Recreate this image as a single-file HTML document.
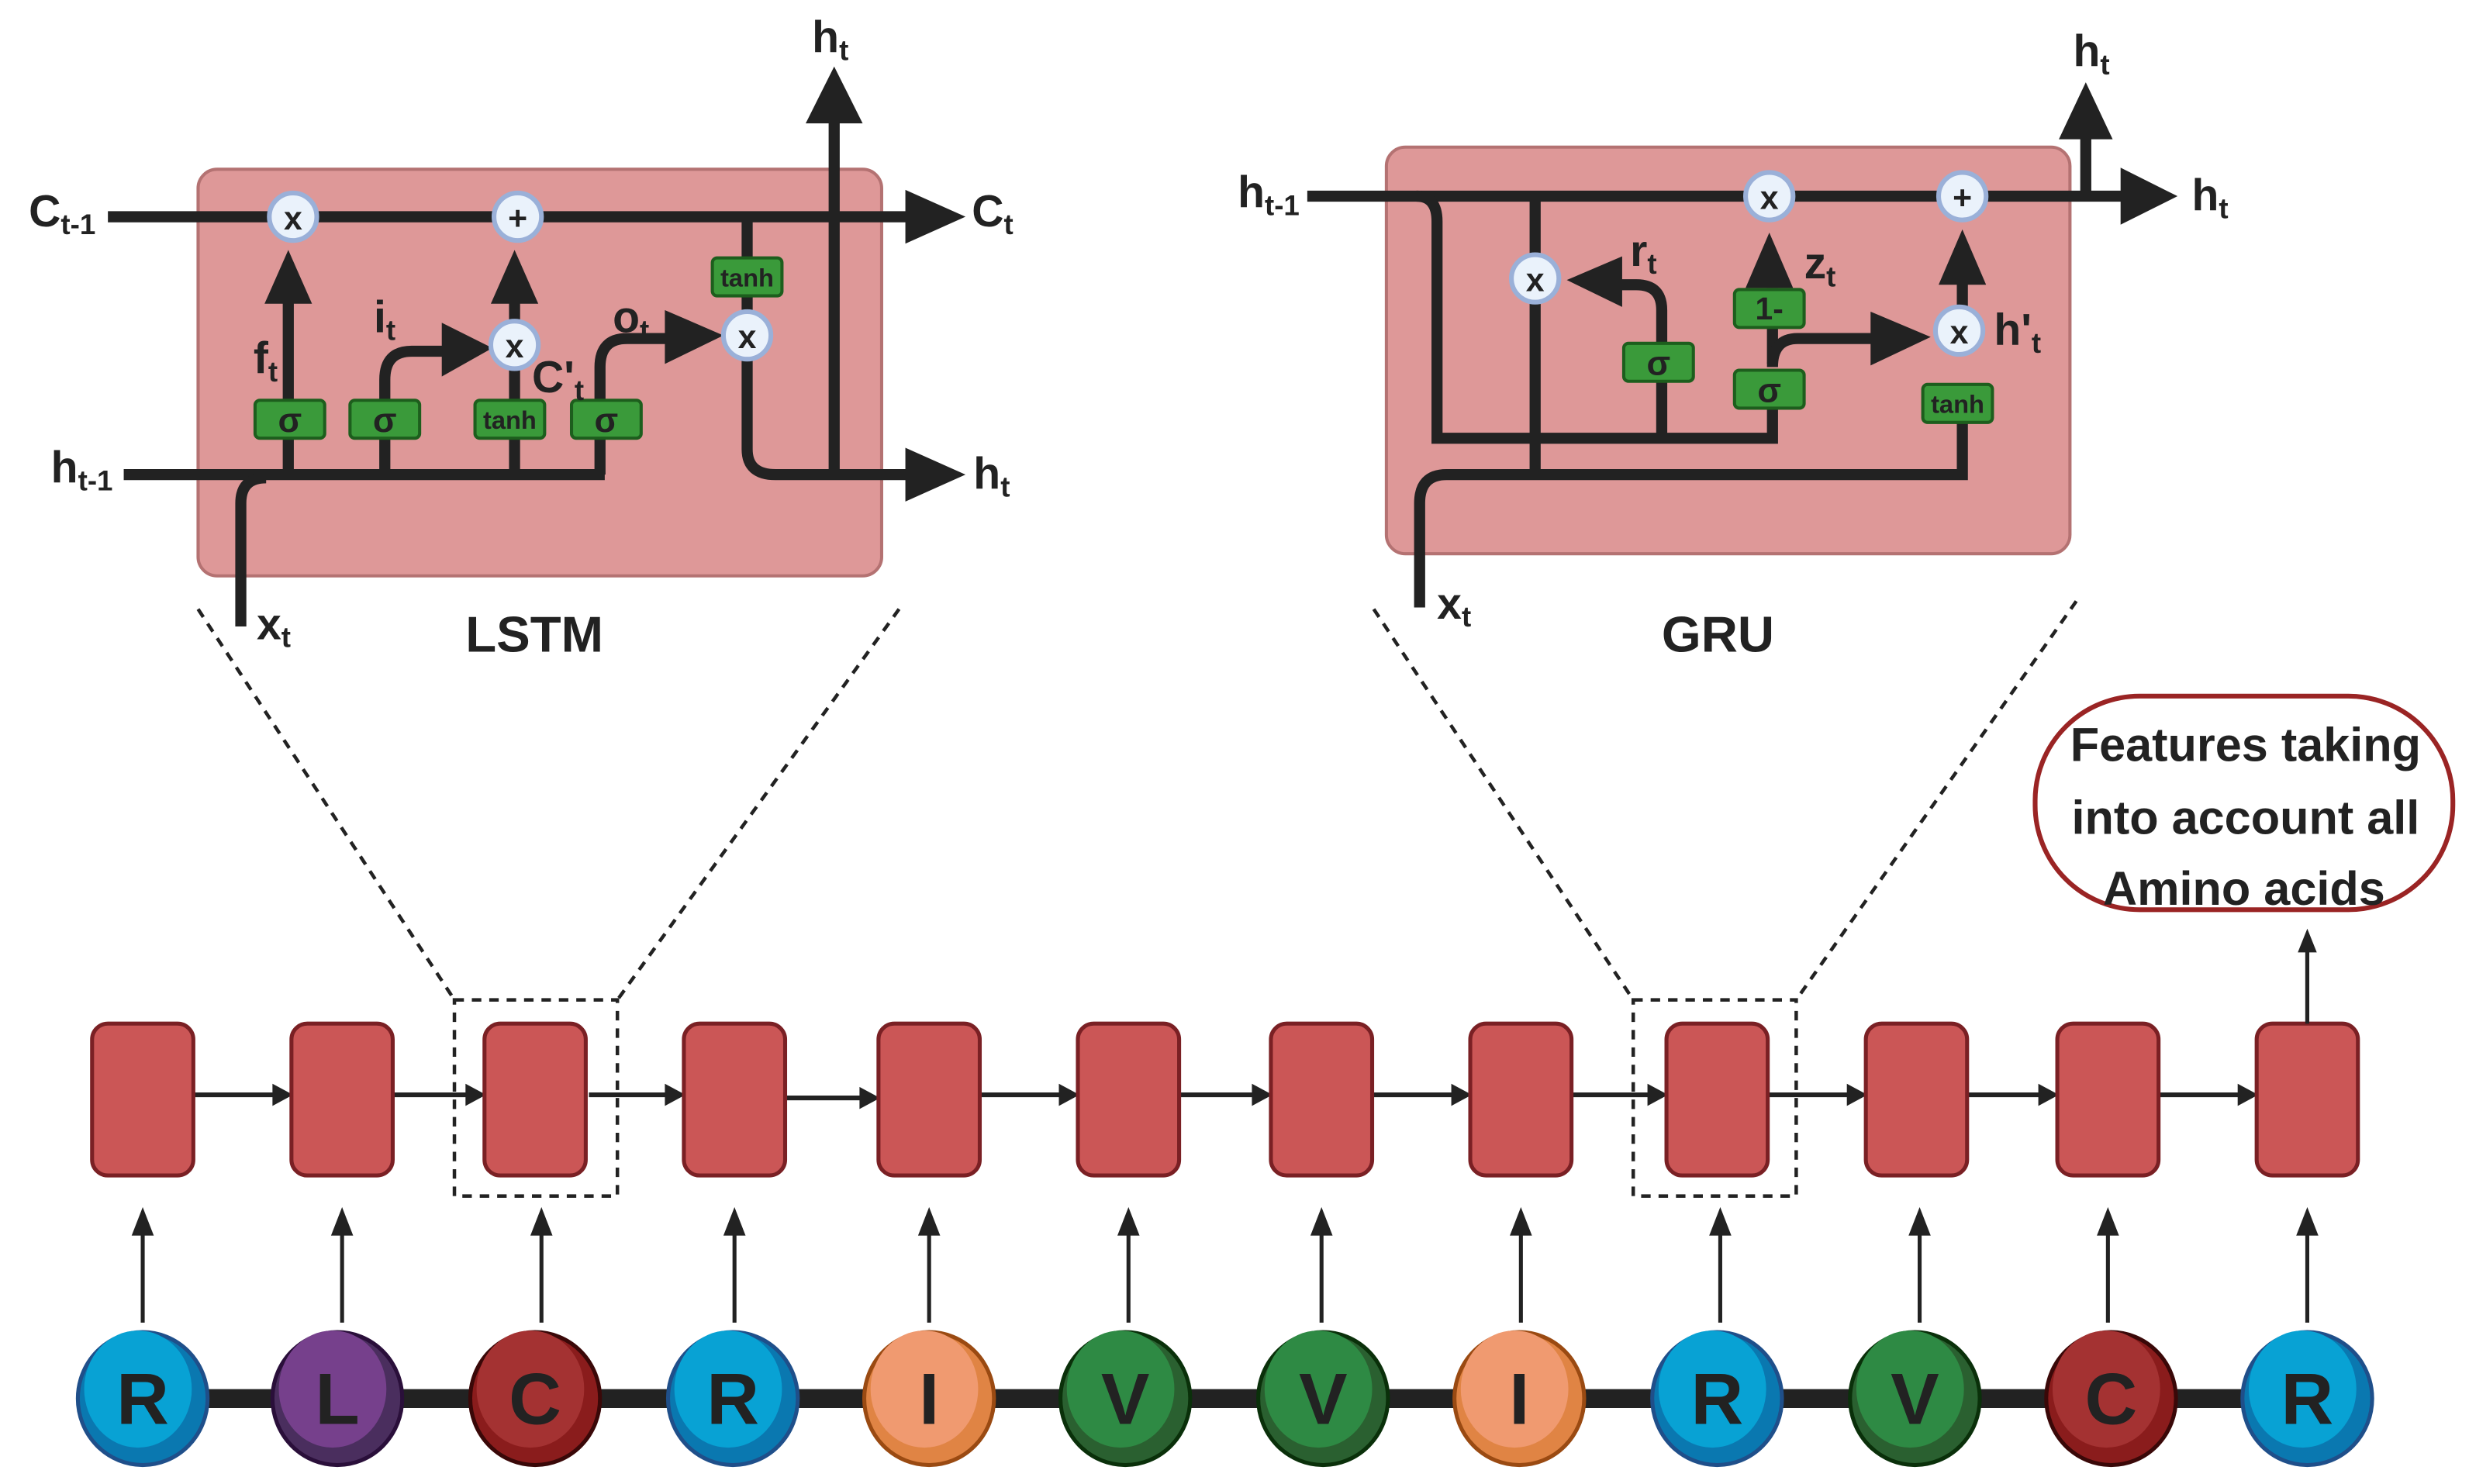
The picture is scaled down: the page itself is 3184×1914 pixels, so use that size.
<!DOCTYPE html>
<html><head><meta charset="utf-8"><style>
html,body{margin:0;padding:0;background:#fff}
svg{display:block}
text{font-family:"Liberation Sans",sans-serif;font-weight:bold;fill:#222}
</style></head><body>
<svg width="3184" height="1914" viewBox="0 0 1560 938" xmlns="http://www.w3.org/2000/svg">
<defs>
<marker id="ah" markerWidth="10" markerHeight="10" refX="9" refY="5" orient="auto" markerUnits="userSpaceOnUse"><path d="M0,0 L10,5 L0,10 z" fill="#222"/></marker>
</defs>
<g stroke="#222" stroke-width="2.2" stroke-dasharray="6,5" fill="none">
<line x1="125" y1="385" x2="287" y2="632"/><line x1="568" y1="385" x2="390" y2="632"/>
<line x1="868" y1="385" x2="1032" y2="632"/><line x1="1312" y1="380" x2="1135" y2="632"/>
<rect x="287" y="632" width="103" height="124"/><rect x="1032" y="632" width="103" height="124"/>
</g>
<!-- LSTM -->
<rect x="125" y="107" width="432" height="257" rx="12" fill="#de9898" stroke="#b47272" stroke-width="2"/>
<g stroke="#222" stroke-width="7" fill="none">
<line x1="68" y1="137" x2="582" y2="137"/>
<line x1="78" y1="300" x2="382" y2="300"/>
<path d="M152,396 V318 Q152,302 168,302"/>
<line x1="182" y1="300" x2="182" y2="190"/>
<path d="M243,300 V240 Q243,222 260,222 H282"/>
<line x1="325" y1="300" x2="325" y2="233"/>
<line x1="325" y1="203" x2="325" y2="190"/>
<path d="M379,300 V232 Q379,214 396,214 H422"/>
<line x1="472" y1="137" x2="472" y2="197"/>
<path d="M472,227 V284 Q472,300 490,300 H582"/>
<line x1="527" y1="300" x2="527" y2="76"/>
</g>
<g fill="#222">
<path d="M572,120 L610,137 L572,154z"/><path d="M572,283 L610,300 L572,317z"/>
<path d="M509,78 L527,42 L545,78z"/>
<path d="M167,192 L182,158 L197,192z"/><path d="M310,192 L325,158 L340,192z"/>
<path d="M279,204 L311,220 L279,238z"/><path d="M420,196 L457,212 L420,230z"/>
</g>
<g fill="#3a9a3a" stroke="#1d5e1d" stroke-width="2">
<rect x="161" y="253" width="44" height="24" rx="3"/><rect x="221" y="253" width="44" height="24" rx="3"/>
<rect x="300" y="253" width="44" height="24" rx="3"/><rect x="361" y="253" width="44" height="24" rx="3"/>
<rect x="450" y="163" width="44" height="24" rx="3"/>
</g>
<g font-size="22" text-anchor="middle"><text x="183" y="273">σ</text><text x="243" y="273">σ</text><text x="383" y="273">σ</text></g>
<g font-size="16" text-anchor="middle" font-weight="normal"><text x="322" y="271">tanh</text><text x="472" y="181">tanh</text></g>
<g fill="#eaf2fb" stroke="#9ab0d8" stroke-width="3">
<circle cx="185" cy="137" r="15"/><circle cx="327" cy="137" r="15"/><circle cx="325" cy="218" r="15"/><circle cx="472" cy="212" r="15"/>
</g>
<g font-size="21" text-anchor="middle"><text x="185" y="145">x</text><text x="327" y="145">+</text><text x="325" y="226">x</text><text x="472" y="220">x</text></g>
<g font-size="28">
<text x="18" y="143">C<tspan font-size="18" dy="5">t-1</tspan></text>
<text x="614" y="143">C<tspan font-size="18" dy="5">t</tspan></text>
<text x="32" y="305">h<tspan font-size="18" dy="5">t-1</tspan></text>
<text x="615" y="309">h<tspan font-size="18" dy="5">t</tspan></text>
<text x="513" y="33">h<tspan font-size="18" dy="5">t</tspan></text>
<text x="160" y="236">f<tspan font-size="18" dy="5">t</tspan></text>
<text x="236" y="210">i<tspan font-size="18" dy="5">t</tspan></text>
<text x="387" y="210">o<tspan font-size="18" dy="5">t</tspan></text>
<text x="336" y="248">C'<tspan font-size="18" dy="5">t</tspan></text>
<text x="162" y="404">x<tspan font-size="18" dy="5">t</tspan></text>
<text x="294" y="412" font-size="32">LSTM</text>
</g>
<!-- GRU -->
<rect x="876" y="93" width="432" height="257" rx="12" fill="#de9898" stroke="#b47272" stroke-width="2"/>
<g stroke="#222" stroke-width="7" fill="none">
<line x1="826" y1="124" x2="1345" y2="124"/>
<path d="M895,124 Q908,124 908,140 V277 H1120 V250"/>
<path d="M897,384 V318 Q897,300 914,300 H1240 V265"/>
<line x1="970" y1="124" x2="970" y2="300"/>
<path d="M1050,277 V196 Q1050,180 1034,180 H1020"/>
<line x1="1120" y1="230" x2="1120" y2="182"/>
<path d="M1120,232 Q1120,214 1136,214 H1185"/>
<line x1="1240" y1="196" x2="1240" y2="178"/>
<line x1="1318" y1="124" x2="1318" y2="86"/>
</g>
<g fill="#222">
<path d="M1340,106 L1376,124 L1340,142z"/><path d="M1301,88 L1318,52 L1335,88z"/>
<path d="M1025,162 L990,177 L1025,194z"/>
<path d="M1103,182 L1118,147 L1133,182z"/><path d="M1225,180 L1240,145 L1255,180z"/>
<path d="M1182,197 L1220,213 L1182,231z"/>
</g>
<g fill="#3a9a3a" stroke="#1d5e1d" stroke-width="2">
<rect x="1026" y="217" width="44" height="24" rx="3"/><rect x="1096" y="234" width="44" height="24" rx="3"/>
<rect x="1096" y="183" width="44" height="24" rx="3"/><rect x="1215" y="243" width="44" height="24" rx="3"/>
</g>
<g font-size="22" text-anchor="middle"><text x="1048" y="237">σ</text><text x="1118" y="254">σ</text><text x="1118" y="202" font-size="20">1-</text></g>
<text x="1237" y="261" font-size="16" text-anchor="middle" font-weight="normal">tanh</text>
<g fill="#eaf2fb" stroke="#9ab0d8" stroke-width="3">
<circle cx="1118" cy="124" r="15"/><circle cx="1240" cy="124" r="15"/><circle cx="970" cy="176" r="15"/><circle cx="1238" cy="209" r="15"/>
</g>
<g font-size="21" text-anchor="middle"><text x="1118" y="132">x</text><text x="1240" y="132">+</text><text x="970" y="184">x</text><text x="1238" y="217">x</text></g>
<g font-size="28">
<text x="782" y="131">h<tspan font-size="18" dy="5">t-1</tspan></text>
<text x="1385" y="133">h<tspan font-size="18" dy="5">t</tspan></text>
<text x="1310" y="42">h<tspan font-size="18" dy="5">t</tspan></text>
<text x="1030" y="168">r<tspan font-size="18" dy="5">t</tspan></text>
<text x="1140" y="176">z<tspan font-size="18" dy="5">t</tspan></text>
<text x="1260" y="218">h'<tspan font-size="18" dy="5">t</tspan></text>
<text x="908" y="391">x<tspan font-size="18" dy="5">t</tspan></text>
<text x="1050" y="412" font-size="32">GRU</text>
</g>
<!-- callout -->
<rect x="1286" y="440" width="264" height="135" rx="66" fill="#fff" stroke="#9a2424" stroke-width="3"/>
<g font-size="30" text-anchor="middle"><text x="1419" y="481">Features taking</text><text x="1419" y="527">into account all</text><text x="1418" y="572">Amino acids</text></g>
<line x1="1458" y1="660" x2="1458" y2="600" stroke="#222" stroke-width="2.5"/>
<path d="M1452,602 L1458,587 L1464,602z" fill="#222"/>
<!-- chain -->
<g id="chain">
<line x1="90" y1="884" x2="1458" y2="884" stroke="#222" stroke-width="12"/>
</g>
<g stroke="#222" stroke-width="3">
<line x1="122" y1="692" x2="176" y2="692"/><line x1="248" y1="692" x2="298" y2="692"/><line x1="372" y1="692" x2="424" y2="692"/>
<line x1="496" y1="694" x2="547" y2="694"/><line x1="619" y1="692" x2="673" y2="692"/><line x1="745" y1="692" x2="795" y2="692"/>
<line x1="867" y1="692" x2="921" y2="692"/><line x1="993" y1="692" x2="1045" y2="692"/><line x1="1117" y1="692" x2="1171" y2="692"/>
<line x1="1243" y1="692" x2="1292" y2="692"/><line x1="1364" y1="692" x2="1418" y2="692"/>
</g>
<g fill="#222">
<path d="M172,685 L185,692 L172,699z"/><path d="M294,685 L307,692 L294,699z"/><path d="M420,685 L433,692 L420,699z"/>
<path d="M543,687 L556,694 L543,701z"/><path d="M669,685 L682,692 L669,699z"/><path d="M791,685 L804,692 L791,699z"/>
<path d="M917,685 L930,692 L917,699z"/><path d="M1041,685 L1054,692 L1041,699z"/><path d="M1167,685 L1180,692 L1167,699z"/>
<path d="M1288,685 L1301,692 L1288,699z"/><path d="M1414,685 L1427,692 L1414,699z"/>
</g>
<g fill="#cb5656" stroke="#7a2024" stroke-width="2.5">
<rect x="58" y="647" width="64" height="96" rx="10"/><rect x="184" y="647" width="64" height="96" rx="10"/>
<rect x="306" y="647" width="64" height="96" rx="10"/><rect x="432" y="647" width="64" height="96" rx="10"/>
<rect x="555" y="647" width="64" height="96" rx="10"/><rect x="681" y="647" width="64" height="96" rx="10"/>
<rect x="803" y="647" width="64" height="96" rx="10"/><rect x="929" y="647" width="64" height="96" rx="10"/>
<rect x="1053" y="647" width="64" height="96" rx="10"/><rect x="1179" y="647" width="64" height="96" rx="10"/>
<rect x="1300" y="647" width="64" height="96" rx="10"/><rect x="1426" y="647" width="64" height="96" rx="10"/>
</g>
<line x1="1458" y1="647" x2="1458" y2="600" stroke="#222" stroke-width="2.5"/>
<g stroke="#222" stroke-width="2.5">
<line x1="90" y1="836" x2="90" y2="778"/><line x1="216" y1="836" x2="216" y2="778"/><line x1="342" y1="836" x2="342" y2="778"/>
<line x1="464" y1="836" x2="464" y2="778"/><line x1="587" y1="836" x2="587" y2="778"/><line x1="713" y1="836" x2="713" y2="778"/>
<line x1="835" y1="836" x2="835" y2="778"/><line x1="961" y1="836" x2="961" y2="778"/><line x1="1087" y1="836" x2="1087" y2="778"/>
<line x1="1213" y1="836" x2="1213" y2="778"/><line x1="1332" y1="836" x2="1332" y2="778"/><line x1="1458" y1="836" x2="1458" y2="778"/>
</g>
<g fill="#222">
<path d="M83,781 L90,763 L97,781z"/><path d="M209,781 L216,763 L223,781z"/><path d="M335,781 L342,763 L349,781z"/>
<path d="M457,781 L464,763 L471,781z"/><path d="M580,781 L587,763 L594,781z"/><path d="M706,781 L713,763 L720,781z"/>
<path d="M828,781 L835,763 L842,781z"/><path d="M954,781 L961,763 L968,781z"/><path d="M1080,781 L1087,763 L1094,781z"/>
<path d="M1206,781 L1213,763 L1220,781z"/><path d="M1325,781 L1332,763 L1339,781z"/><path d="M1451,781 L1458,763 L1465,781z"/>
</g>
<!-- residues -->
<g stroke-width="2.5">
<ellipse cx="90" cy="884" rx="41" ry="42" fill="#0a78b0" stroke="#1f4f8a"/><ellipse cx="87" cy="878" rx="34" ry="37" fill="#08a2d4"/>
<ellipse cx="213" cy="884" rx="41" ry="42" fill="#4a2e5e" stroke="#2a0f3a"/><ellipse cx="210" cy="878" rx="34" ry="37" fill="#76408c"/>
<ellipse cx="338" cy="884" rx="41" ry="42" fill="#8a1c1c" stroke="#3a0808"/><ellipse cx="335" cy="878" rx="34" ry="37" fill="#a43232"/>
<ellipse cx="463" cy="884" rx="41" ry="42" fill="#0a78b0" stroke="#1f4f8a"/><ellipse cx="460" cy="878" rx="34" ry="37" fill="#08a2d4"/>
<ellipse cx="587" cy="884" rx="41" ry="42" fill="#e08444" stroke="#9a4a12"/><ellipse cx="584" cy="878" rx="34" ry="37" fill="#f09a70"/>
<ellipse cx="711" cy="884" rx="41" ry="42" fill="#2a6030" stroke="#0a300a"/><ellipse cx="708" cy="878" rx="34" ry="37" fill="#2e8a44"/>
<ellipse cx="836" cy="884" rx="41" ry="42" fill="#2a6030" stroke="#0a300a"/><ellipse cx="833" cy="878" rx="34" ry="37" fill="#2e8a44"/>
<ellipse cx="960" cy="884" rx="41" ry="42" fill="#e08444" stroke="#9a4a12"/><ellipse cx="957" cy="878" rx="34" ry="37" fill="#f09a70"/>
<ellipse cx="1085" cy="884" rx="41" ry="42" fill="#0a78b0" stroke="#1f4f8a"/><ellipse cx="1082" cy="878" rx="34" ry="37" fill="#08a2d4"/>
<ellipse cx="1210" cy="884" rx="41" ry="42" fill="#2a6030" stroke="#0a300a"/><ellipse cx="1207" cy="878" rx="34" ry="37" fill="#2e8a44"/>
<ellipse cx="1334" cy="884" rx="41" ry="42" fill="#8a1c1c" stroke="#3a0808"/><ellipse cx="1331" cy="878" rx="34" ry="37" fill="#a43232"/>
<ellipse cx="1458" cy="884" rx="41" ry="42" fill="#0a78b0" stroke="#1f4f8a"/><ellipse cx="1455" cy="878" rx="34" ry="37" fill="#08a2d4"/>
</g>
<g font-size="46" text-anchor="middle">
<text x="90" y="900">R</text><text x="213" y="900">L</text><text x="338" y="900">C</text><text x="463" y="900">R</text>
<text x="587" y="900">I</text><text x="711" y="900">V</text><text x="836" y="900">V</text><text x="960" y="900">I</text>
<text x="1085" y="900">R</text><text x="1210" y="900">V</text><text x="1334" y="900">C</text><text x="1458" y="900">R</text>
</g>
</svg>
</body></html>
